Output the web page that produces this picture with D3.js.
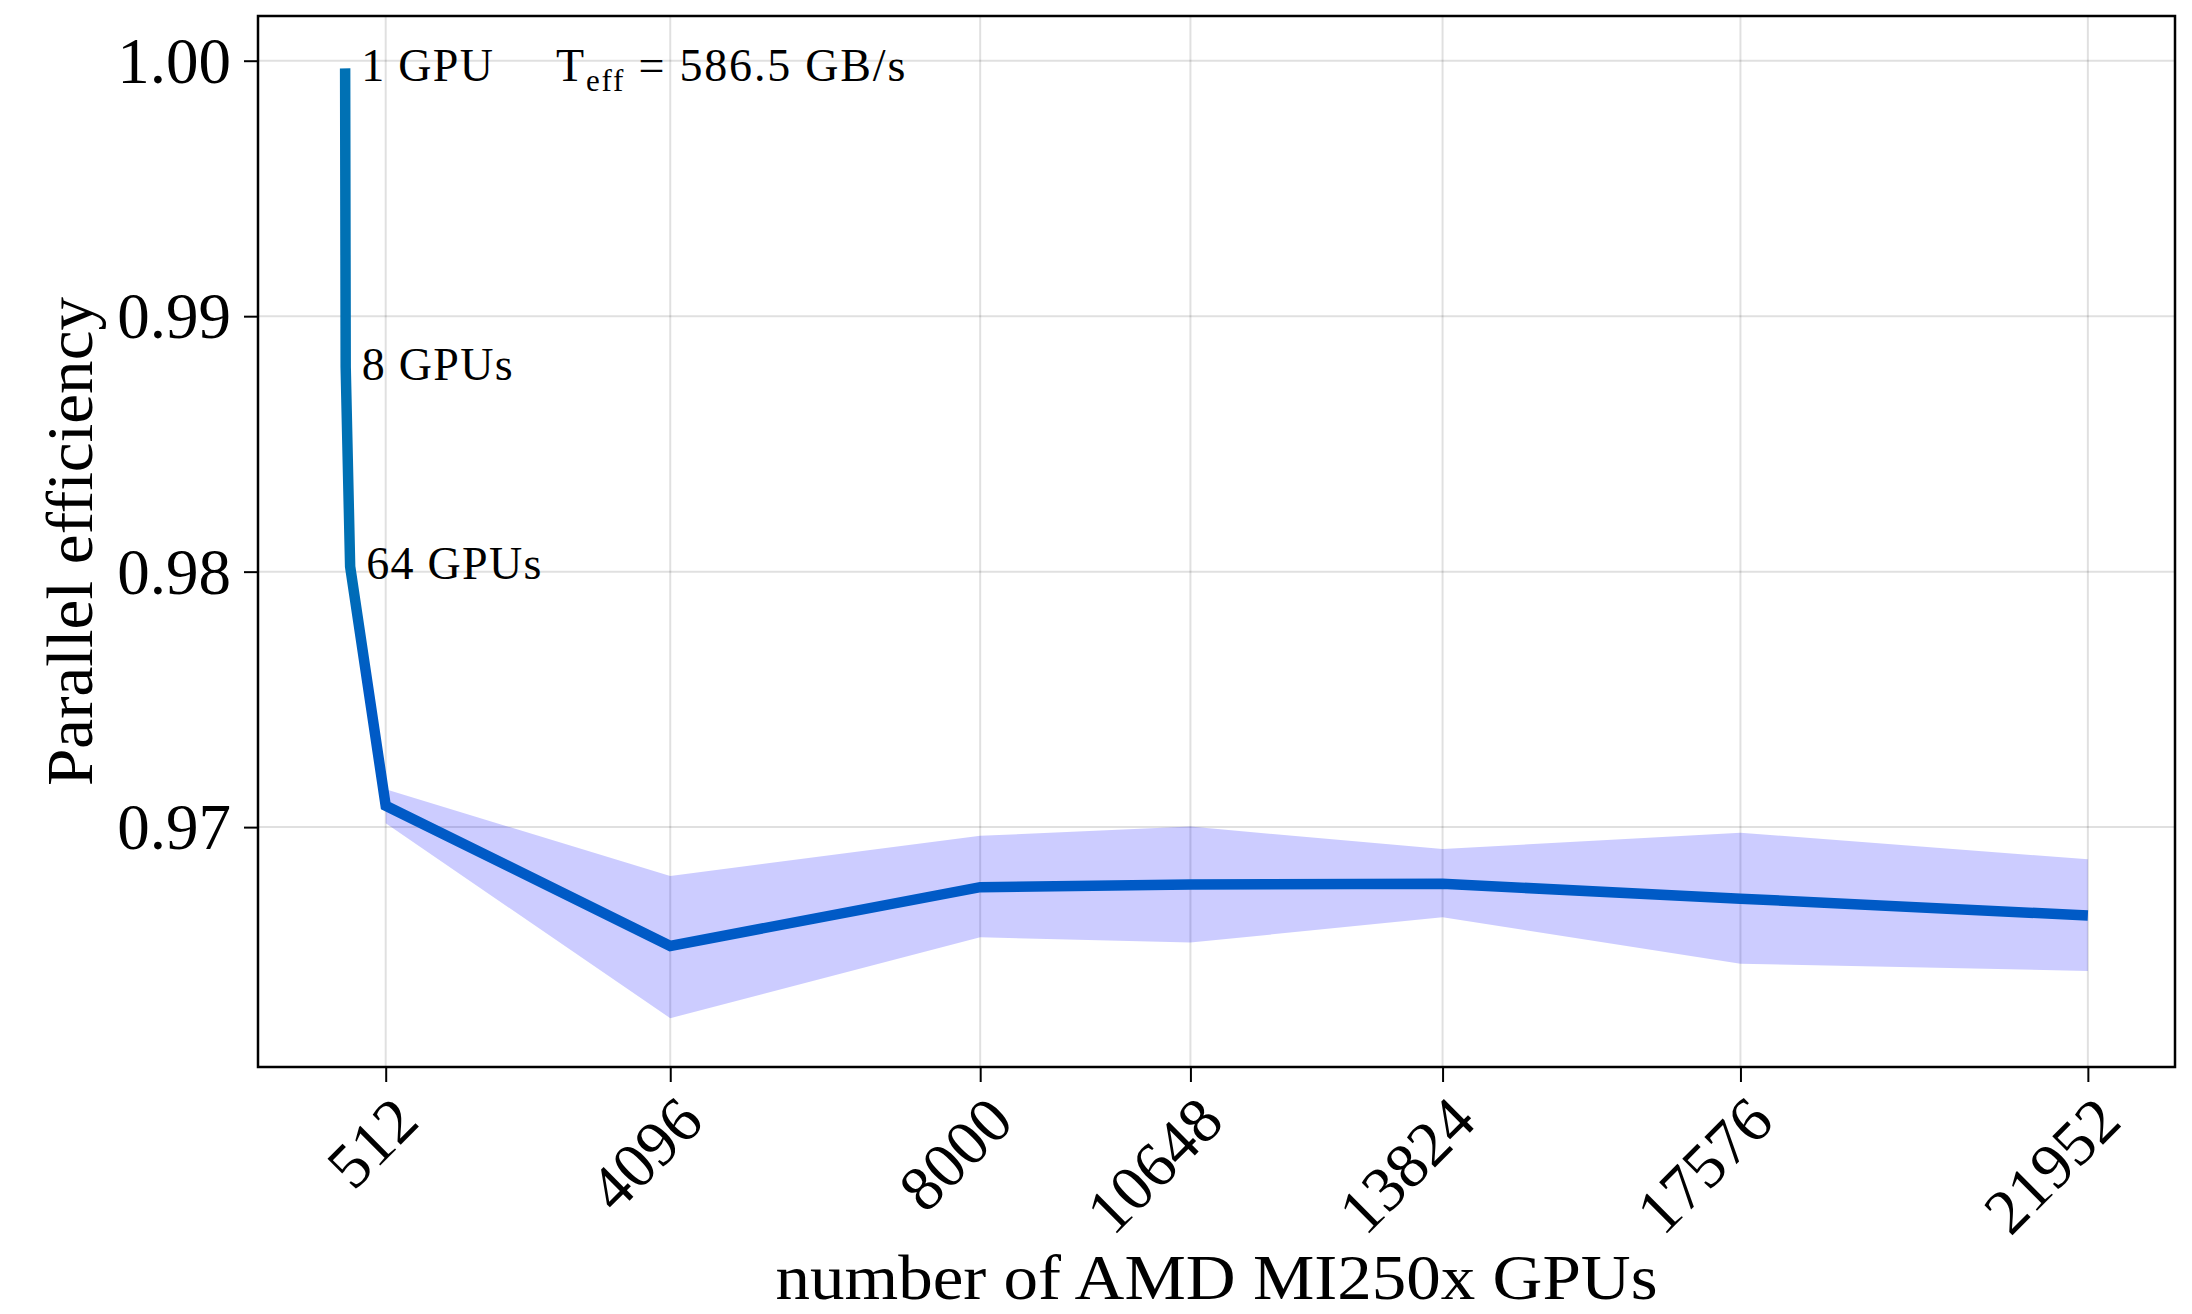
<!DOCTYPE html>
<html>
<head>
<meta charset="utf-8">
<script src="https://cdn.jsdelivr.net/npm/d3@7"></script>
<style>
  html, body { margin: 0; padding: 0; background: #ffffff; }
  svg text { font-family: "Liberation Serif", "DejaVu Serif", serif; fill: #000; }
</style>
</head>
<body>
<svg id="chart" width="2192" height="1314"></svg>
<script>
// Weak-scaling parallel efficiency on AMD MI250x GPUs
const gpus       = [1, 8, 64, 512, 4096, 8000, 10648, 13824, 17576, 21952];
const efficiency = [0.9997, 0.9880, 0.9802, 0.97084, 0.96535, 0.96765, 0.96775, 0.96778, 0.96720, 0.96654];

// spread (min / max) of the repeated runs
const bandGpus  = [512, 4096, 8000, 10648, 13824, 17576, 21952];
const bandLower = [0.97015, 0.96252, 0.96569, 0.96548, 0.96647, 0.96465, 0.96437];
const bandUpper = [0.97148, 0.96809, 0.96966, 0.97002, 0.96914, 0.96978, 0.96874];

const xTicks = [512, 4096, 8000, 10648, 13824, 17576, 21952];
const yTicks = [0.97, 0.98, 0.99, 1.00];

const labelGpus  = [1, 8, 64];
const labelTexts = ["1 GPU", "8 GPUs", "64 GPUs"];

const W = 2192, H = 1314;
const plot = { left: 258, right: 2175, top: 16, bottom: 1067 };

const svg = d3.select("#chart");
svg.append("rect").attr("width", W).attr("height", H).attr("fill", "#fff");

const xPad = (d3.max(gpus) - d3.min(gpus)) * 0.05;
const x = d3.scaleLinear()
  .domain([d3.min(gpus) - xPad, d3.max(gpus) + xPad])
  .range([plot.left, plot.right]);
const y = d3.scaleLinear()
  .domain([0.96061, 1.00175])
  .range([plot.bottom, plot.top]);

// grid
const grid = svg.append("g");
grid.selectAll("line.vx").data(xTicks).join("line")
  .attr("x1", d => x(d)).attr("x2", d => x(d))
  .attr("y1", plot.top).attr("y2", plot.bottom)
  .attr("stroke", "rgba(0,0,0,0.12)").attr("stroke-width", 2);
grid.selectAll("line.hy").data(yTicks).join("line")
  .attr("x1", plot.left).attr("x2", plot.right)
  .attr("y1", d => y(d)).attr("y2", d => y(d))
  .attr("stroke", "rgba(0,0,0,0.12)").attr("stroke-width", 2);

// spread band
const bandData = bandGpus.map((g, i) => ({ g, lo: bandLower[i], hi: bandUpper[i] }));
svg.append("path")
  .datum(bandData)
  .attr("fill", "rgba(0,0,255,0.2)")
  .attr("d", d3.area().x(d => x(d.g)).y0(d => y(d.lo)).y1(d => y(d.hi)));

// efficiency line (colour deepens below the 64-GPU point)
const defs = svg.append("defs");
const grad = defs.append("linearGradient")
  .attr("id", "lineGrad").attr("gradientUnits", "userSpaceOnUse")
  .attr("x1", 0).attr("x2", 0)
  .attr("y1", y(efficiency[2])).attr("y2", y(efficiency[2]) + 120);
grad.append("stop").attr("offset", 0).attr("stop-color", "#0071b4");
grad.append("stop").attr("offset", 1).attr("stop-color", "#005ac6");

const pts = gpus.map((g, i) => ({ g, e: efficiency[i] }));
svg.append("path")
  .datum(pts)
  .attr("fill", "none")
  .attr("stroke", "url(#lineGrad)")
  .attr("stroke-width", 10.5)
  .attr("stroke-linejoin", "miter")
  .attr("stroke-linecap", "butt")
  .attr("d", d3.line().x(d => x(d.g)).y(d => y(d.e)));

// frame
svg.append("rect")
  .attr("x", plot.left).attr("y", plot.top)
  .attr("width", plot.right - plot.left).attr("height", plot.bottom - plot.top)
  .attr("fill", "none").attr("stroke", "#000").attr("stroke-width", 2.5);

// x axis
const xAxis = svg.append("g").attr("transform", `translate(0,${plot.bottom})`)
  .call(d3.axisBottom(x).tickValues(xTicks).tickSize(15).tickSizeOuter(0).tickFormat(d3.format("d")));
xAxis.select(".domain").remove();
xAxis.selectAll(".tick line").attr("stroke", "#000").attr("stroke-width", 2);
xAxis.selectAll(".tick text")
  .attr("font-size", 64)
  .attr("text-anchor", "end")
  .attr("y", 0).attr("dy", null)
  .attr("transform", "translate(20,42) rotate(-45)")
  .attr("dominant-baseline", "central");

// y axis
const yAxis = svg.append("g").attr("transform", `translate(${plot.left},0)`)
  .call(d3.axisLeft(y).tickValues(yTicks).tickSize(14).tickSizeOuter(0).tickFormat(d3.format(".2f")));
yAxis.select(".domain").remove();
yAxis.selectAll(".tick line").attr("stroke", "#000").attr("stroke-width", 2);
yAxis.selectAll(".tick text")
  .attr("font-size", 65)
  .attr("x", -27).attr("dy", "0.33em");

// axis titles
svg.append("text")
  .attr("x", (plot.left + plot.right) / 2).attr("y", 1299)
  .attr("text-anchor", "middle").attr("font-size", 64)
  .attr("textLength", 882).attr("lengthAdjust", "spacingAndGlyphs")
  .text("number of AMD MI250x GPUs");
svg.append("text")
  .attr("transform", `translate(92,${(plot.top + plot.bottom) / 2}) rotate(-90)`)
  .attr("text-anchor", "middle").attr("font-size", 66)
  .attr("textLength", 489).attr("lengthAdjust", "spacingAndGlyphs")
  .text("Parallel efficiency");

// point annotations
const ann = svg.append("g").attr("font-size", 46).attr("letter-spacing", 1.3);
labelGpus.forEach((g, i) => {
  const e = efficiency[gpus.indexOf(g)];
  ann.append("text")
    .attr("x", x(g) + 16).attr("y", y(e) + 12.5)
    .text(labelTexts[i]);
});

// effective throughput of a single GPU
const teff = ann.append("text")
  .attr("letter-spacing", 1.8)
  .attr("x", 556).attr("y", y(efficiency[0]) + 12.5);
teff.append("tspan").text("T");
teff.append("tspan").attr("font-size", 31).attr("dy", 10).text("eff");
teff.append("tspan").attr("dy", -10).text(" = 586.5 GB/s");
</script>
</body>
</html>
